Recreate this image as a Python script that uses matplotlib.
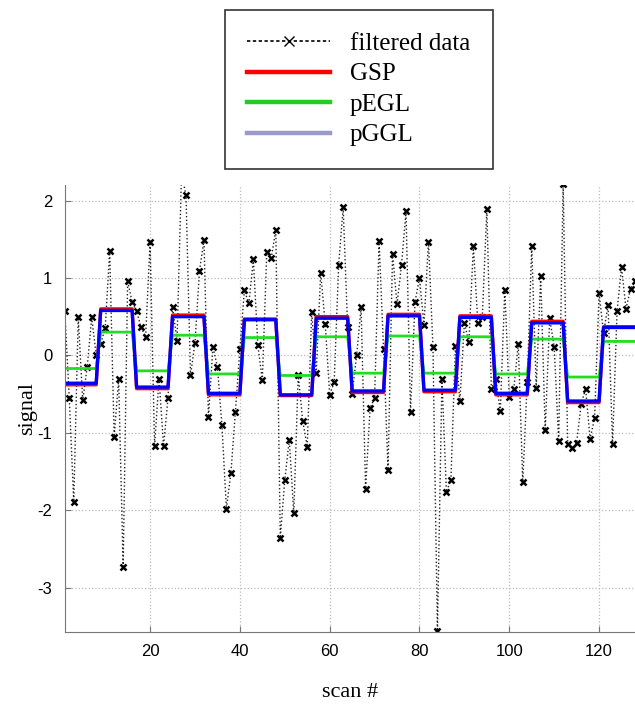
import matplotlib.pyplot as plt
import numpy as np
from matplotlib.lines import Line2D

plt.rcParams["axes.unicode_minus"] = False

# filtered data, one value per scan
signal = [
    0.57, -0.55, -1.89, 0.49, -0.58, -0.15, 0.49, 0.00,
    0.15, 0.35, 1.35, -1.05, -0.31, -2.73, 0.96, 0.69,
    0.57, 0.36, 0.24, 1.46, -1.17, -0.30, -1.17, -0.55,
    0.63, 0.19, 2.35, 2.07, -0.26, 0.16, 1.09, 1.49,
    -0.80, 0.11, -0.15, -0.90, -1.98, -1.52, -0.73, 0.08,
    0.84, 0.67, 1.24, 0.13, -0.32, 1.34, 1.26, 1.62,
    -2.36, -1.61, -1.09, -2.04, -0.25, -0.85, -1.18, 0.56,
    -0.23, 1.07, 0.41, -0.51, -0.35, 1.17, 1.91, 0.36,
    -0.50, 0.00, 0.62, -1.72, -0.68, -0.55, 1.48, 0.08,
    -1.48, 1.31, 0.66, 1.17, 1.86, -0.73, 0.69, 1.00,
    0.39, 1.47, 0.11, -3.56, -0.31, -1.76, -1.61, 0.12,
    -0.59, 0.42, 0.17, 1.41, 0.42, 0.50, 1.89, -0.43,
    -0.30, -0.72, 0.85, -0.54, -0.44, 0.15, -1.63, -0.34,
    1.41, -0.42, 1.02, -0.97, 0.48, 0.11, -1.11, 2.21,
    -1.14, -1.20, -1.13, -0.63, -0.43, -1.08, -0.81, 0.80,
    0.29, 0.65, -1.15, 0.57, 1.14, 0.60, 0.86, 0.96,
]

# piecewise-constant estimates, one level per block of 8 scans
block_len = 8
gsp_levels = [-0.38, 0.60, -0.43, 0.52, -0.51, 0.47, -0.52, 0.50,
              -0.48, 0.53, -0.47, 0.51, -0.51, 0.44, -0.61, 0.37]
pegl_levels = [-0.17, 0.30, -0.20, 0.26, -0.24, 0.23, -0.26, 0.24,
               -0.23, 0.25, -0.23, 0.24, -0.24, 0.21, -0.28, 0.18]
pggl_levels = [-0.36, 0.58, -0.41, 0.50, -0.49, 0.46, -0.51, 0.48,
               -0.46, 0.51, -0.45, 0.49, -0.49, 0.42, -0.59, 0.36]

scan = np.arange(1, len(signal) + 1)
gsp = np.repeat(gsp_levels, block_len)
pegl = np.repeat(pegl_levels, block_len)
pggl = np.repeat(pggl_levels, block_len)

fig = plt.figure(figsize=(6.35, 7.09), dpi=100)
ax = fig.add_axes([0.102, 0.109, 0.898, 0.630])

ax.plot(scan, signal, color="#222222", linestyle=":", linewidth=1.0,
        marker="x", markersize=4.5, markeredgewidth=1.8,
        markeredgecolor="black")
ax.plot(scan, gsp, color="#ff0000", linewidth=2.4)
ax.plot(scan, pegl, color="#22dd22", linewidth=2.0)
ax.plot(scan, pggl, color="#0000ff", linewidth=2.4)

ax.set_xlim(1, 128)
ax.set_ylim(-3.57, 2.2)
ax.set_xticks([20, 40, 60, 80, 100, 120])
ax.set_yticks([-3, -2, -1, 0, 1, 2])
ax.grid(True, color="#bbbbbb", linestyle=":", linewidth=0.9)
ax.tick_params(direction="in", length=4, color="#777777",
               labelsize=12, pad=9)
for lbl in ax.get_xticklabels() + ax.get_yticklabels():
    lbl.set_family("Liberation Sans")
for side in ("top", "right"):
    ax.spines[side].set_visible(False)
for side in ("left", "bottom"):
    ax.spines[side].set_color("#777777")

ax.set_xlabel("scan #", family="Liberation Serif", fontsize=16, labelpad=17)
ax.set_ylabel("signal", family="Liberation Serif", fontsize=16, labelpad=0)

handles = [
    Line2D([], [], color="black", linestyle=(0, (2, 1.5)), linewidth=1.2,
           marker="x", markersize=7, markeredgewidth=1.0),
    Line2D([], [], color="#ff0000", linewidth=3.2),
    Line2D([], [], color="#22cc22", linewidth=3.2),
    Line2D([], [], color="#9999cc", linewidth=3.2),
]
leg = fig.legend(handles, ["filtered data", "GSP", "pEGL", "pGGL"],
                 loc="upper left", bbox_to_anchor=(0.354, 0.986),
                 prop={"family": "Liberation Serif", "size": 18},
                 frameon=True, fancybox=False, edgecolor="black",
                 numpoints=1, handlelength=3.3, handletextpad=0.8,
                 borderpad=0.9, labelspacing=0.32, borderaxespad=0)
leg.get_frame().set_linewidth(1.2)

plt.savefig("out.png", dpi=100)
